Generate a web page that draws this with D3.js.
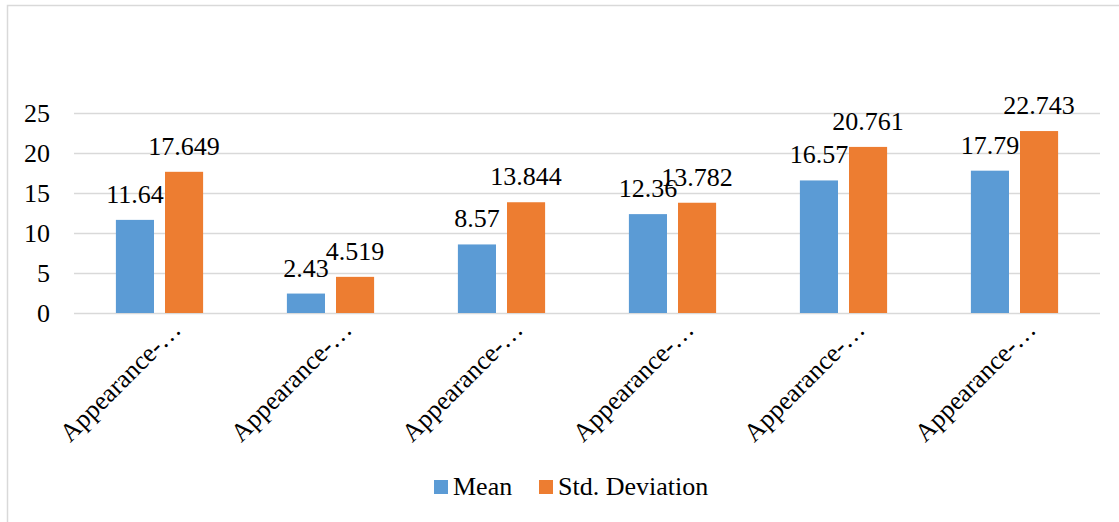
<!DOCTYPE html>
<html>
<head>
<meta charset="utf-8">
<script src="https://cdn.jsdelivr.net/npm/d3@7"></script>
<style>
  html, body { margin: 0; padding: 0; background: #fff; }
  svg { display: block; }
</style>
</head>
<body>
<svg id="chart" width="1119" height="522"></svg>
<script>
// Chart data
const categories = ["Appearance-1", "Appearance-2", "Appearance-3", "Appearance-4", "Appearance-5", "Appearance-6"];
const categoryLabels = ["Appearance-…", "Appearance-…", "Appearance-…", "Appearance-…", "Appearance-…", "Appearance-…"];
const seriesNames = ["Mean", "Std. Deviation"];
const meanValues = [11.64, 2.43, 8.57, 12.36, 16.57, 17.79];
const stdValues = [17.649, 4.519, 13.844, 13.782, 20.761, 22.743];
const meanLabels = ["11.64", "2.43", "8.57", "12.36", "16.57", "17.79"];
const stdLabels = ["17.649", "4.519", "13.844", "13.782", "20.761", "22.743"];
const yTicks = [0, 5, 10, 15, 20, 25];
const colors = ["#5B9BD5", "#ED7D31"];

const FONT = '"Liberation Serif", "Times New Roman", serif';
const FS = 26;

const svg = d3.select("#chart");
const W = 1119, H = 522;

// chart area frame (left and top edges)
svg.append("path")
  .attr("d", `M7.5,${H} V5.5 H${W}`)
  .attr("fill", "none")
  .attr("stroke", "#d9d9d9")
  .attr("stroke-width", 1.5);

const plot = { left: 74, right: 1100, top: 113, bottom: 313 };

const x0 = d3.scaleBand()
  .domain(categories)
  .range([plot.left, plot.right])
  .paddingInner(0)
  .paddingOuter(0);

const groupWidth = x0.bandwidth() * 0.51;
const x1 = d3.scaleBand()
  .domain(seriesNames)
  .range([0, groupWidth])
  .paddingInner(0.224);

const y = d3.scaleLinear().domain([0, 25]).range([plot.bottom, plot.top]);

// gridlines
svg.append("g")
  .selectAll("line")
  .data(yTicks)
  .join("line")
  .attr("x1", plot.left)
  .attr("x2", plot.right)
  .attr("y1", d => Math.round(y(d)) + 0.5)
  .attr("y2", d => Math.round(y(d)) + 0.5)
  .attr("stroke", "#d9d9d9")
  .attr("stroke-width", 1.5);

// y axis labels
const yAxis = d3.axisLeft(y).tickValues(yTicks).tickSize(0).tickPadding(0);
const yg = svg.append("g").attr("transform", `translate(50,0)`).call(yAxis);
yg.select(".domain").remove();
yg.selectAll("text")
  .style("font-family", FONT)
  .style("font-size", FS + "px")
  .attr("fill", "#000")
  .attr("dy", "0.33em");

// bars
const rows = categories.map((c, i) => ({
  cat: c,
  vals: [
    { s: seriesNames[0], v: meanValues[i], label: meanLabels[i] },
    { s: seriesNames[1], v: stdValues[i], label: stdLabels[i] }
  ]
}));

const groups = svg.append("g")
  .selectAll("g")
  .data(rows)
  .join("g")
  .attr("transform", d => `translate(${x0(d.cat) + (x0.bandwidth() - groupWidth) / 2},0)`);

groups.selectAll("rect")
  .data(d => d.vals)
  .join("rect")
  .attr("x", d => x1(d.s))
  .attr("width", x1.bandwidth())
  .attr("y", d => y(d.v))
  .attr("height", d => y(0) - y(d.v))
  .attr("fill", (d, i) => colors[i]);

// value labels
groups.selectAll("text.val")
  .data(d => d.vals)
  .join("text")
  .attr("class", "val")
  .attr("x", d => x1(d.s) + x1.bandwidth() / 2)
  .attr("y", d => y(d.v) - 17)
  .attr("text-anchor", "middle")
  .style("font-family", FONT)
  .style("font-size", FS + "px")
  .attr("fill", "#000")
  .text(d => d.label);

// category labels, rotated
svg.append("g")
  .selectAll("text")
  .data(categories)
  .join("text")
  .attr("transform", d => `translate(${x0(d) + x0.bandwidth() / 2 + 23},331) rotate(-45)`)
  .attr("text-anchor", "end")
  .style("font-family", FONT)
  .style("font-size", FS + "px")
  .attr("fill", "#000")
  .text((d, i) => categoryLabels[i]);

// legend
const legend = svg.append("g");
const legendItems = [
  { name: seriesNames[0], color: colors[0], x: 434 },
  { name: seriesNames[1], color: colors[1], x: 539 }
];
legendItems.forEach(it => {
  legend.append("rect")
    .attr("x", it.x).attr("y", 480)
    .attr("width", 14).attr("height", 14)
    .attr("fill", it.color);
  legend.append("text")
    .attr("x", it.x + 19).attr("y", 495)
    .style("font-family", FONT)
    .style("font-size", FS + "px")
    .attr("fill", "#000")
    .text(it.name);
});
</script>
</body>
</html>
